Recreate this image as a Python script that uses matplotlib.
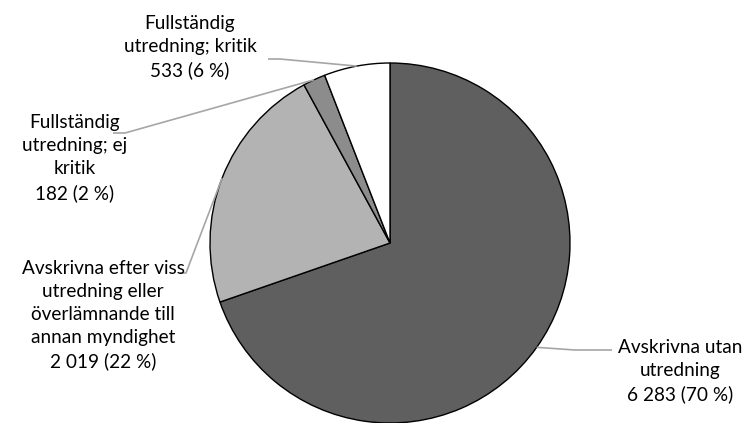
import numpy as np
import matplotlib
matplotlib.use("Agg")
import matplotlib.pyplot as plt

# Ärendefördelning
labels = [
    "Avskrivna utan\nutredning",
    "Avskrivna efter viss\nutredning eller\növerlämnande till\nannan myndighet",
    "Fullständig\nutredning; ej\nkritik",
    "Fullständig\nutredning; kritik",
]
values = [6283, 2019, 182, 533]
colors = ["#5f5f5f", "#b3b3b3", "#8c8c8c", "#ffffff"]

W, H = 745, 423
# Label text positions (centre of text block) and leader-line points, measured from the top-left
label_pos = [(680, 371), (103, 315), (75, 158), (190, 47)]
line_start = [(612, 350), (180, 273), (113, 133), (268, 59)]
line_knee = [(575, 350), (186, 273), (125, 133), (280, 59)]

fig = plt.figure(figsize=(W / 100, H / 100), dpi=100)
ax = fig.add_axes([0, 0, 1, 1])

cx, cy, r = 390, H - 243, 180
ax.pie(values, colors=colors, startangle=90, counterclock=False,
       center=(cx, cy), radius=r,
       wedgeprops=dict(edgecolor="black", linewidth=1.0))
ax.set_xlim(0, W)
ax.set_ylim(0, H)
ax.set_aspect("equal")
ax.axis("off")

total = sum(values)
fmt = lambda v: f"{v:,}".replace(",", " ")
cum = 0.0
for i, v in enumerate(values):
    mid = (cum + v / 2) / total * 360.0  # clockwise from top
    cum += v
    th = np.deg2rad(mid)
    px, py = cx + r * np.sin(th), cy + r * np.cos(th)
    xs = [line_start[i][0], line_knee[i][0], px]
    ys = [H - line_start[i][1], H - line_knee[i][1], py]
    ax.plot(xs, ys, color="#a6a6a6", lw=1.2, solid_capstyle="butt", zorder=3)
    pct = round(v / total * 100)
    ax.text(label_pos[i][0], H - label_pos[i][1], f"{labels[i]}\n{fmt(v)} ({pct} %)",
            ha="center", va="center", fontsize=13.7, family="Lato",
            linespacing=1.44, color="black")

fig.savefig("out.png", dpi=100)
